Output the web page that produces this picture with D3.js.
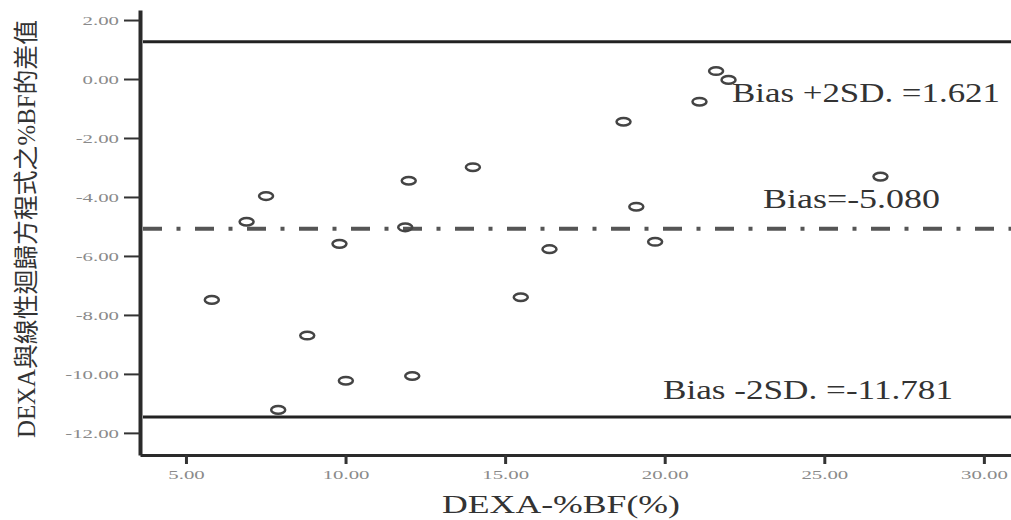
<!DOCTYPE html>
<html>
<head>
<meta charset="utf-8">
<script src="https://cdn.jsdelivr.net/npm/d3@7"></script>
<style>
  body { margin: 0; background: #fff; }
  svg { display: block; }
</style>
</head>
<body>
<svg id="chart_svg" width="1011" height="520"></svg>
<script>
/* values */
var dexaBF = [5.81, 6.90, 7.51, 7.89, 8.80, 9.81, 10.01, 11.87, 11.98, 12.09,
              13.99, 15.49, 16.39, 18.71, 19.11, 19.70, 21.09, 21.61, 22.00, 26.76];
var diffBF = [-7.49, -4.84, -3.97, -11.22, -8.70, -5.59, -10.23, -5.03, -3.45, -10.07,
              -2.99, -7.40, -5.77, -1.45, -4.33, -5.52, -0.77, 0.27, -0.03, -3.31];
var refValues = [1.26, -5.08, -11.46];
var refLabels = ['Bias +2SD. =1.621', 'Bias=-5.080', 'Bias -2SD. =-11.781'];
var xTicks = [5, 10, 15, 20, 25, 30];
var yTicks = [2, 0, -2, -4, -6, -8, -10, -12];
var xTitle = 'DEXA-%BF(%)';
var yTitle = 'DEXA與線性迴歸方程式之%BF的差值';

var serif = "'Liberation Serif', 'Noto Sans CJK TC'";

function createChart(){
  var svg = d3.select('#chart_svg');

  var x = d3.scaleLinear().domain([3.56, 30.85]).range([140, 1011]);
  var y = d3.scaleLinear().domain([2.34, -12.75]).range([10, 455]);
  var fmt = d => d.toFixed(2);

  /* stretch helper, the picture is wider than it should be */
  function stretch(sel, k){
    sel.each(function(){
      var w = this.getComputedTextLength();
      d3.select(this).attr('textLength', w*k).attr('lengthAdjust', 'spacingAndGlyphs');
    });
  }

  /* Y axis */
  var yAxis = svg.append('g')
    .attr('transform', 'translate(' + x.range()[0] + ',0)')
    .call(d3.axisLeft(y).tickValues(yTicks).tickFormat(fmt).tickSize(16).tickSizeOuter(0).tickPadding(5));
  yAxis.select('.domain').attr('stroke', '#2a2a2a').attr('stroke-width', 4);
  yAxis.selectAll('.tick line').attr('stroke', '#333').attr('stroke-width', 2);
  yAxis.selectAll('.tick text').attr('fill', '#8a8a8a')
    .style('font-family', serif).style('font-size', '13px');
  stretch(yAxis.selectAll('.tick text'), 1.6);

  /* X axis */
  var xAxis = svg.append('g')
    .attr('transform', 'translate(0,' + y.range()[1] + ')')
    .call(d3.axisBottom(x).tickValues(xTicks).tickFormat(fmt).tickSize(9).tickSizeOuter(0).tickPadding(6));
  xAxis.select('.domain').attr('stroke', '#2a2a2a').attr('stroke-width', 3);
  xAxis.selectAll('.tick line').attr('stroke', '#333').attr('stroke-width', 3);
  xAxis.selectAll('.tick text').attr('fill', '#8a8a8a')
    .style('font-family', serif).style('font-size', '13px');
  stretch(xAxis.selectAll('.tick text'), 1.6);

  /* Bias and limit lines */
  svg.selectAll('line.ref')
    .data(refValues)
    .enter().append('line')
    .attr('class', 'ref')
    .attr('x1', x.range()[0] + 3).attr('x2', x.range()[1])
    .attr('y1', d => y(d)).attr('y2', d => y(d))
    .attr('stroke', (d, i) => i == 1 ? '#555' : '#222')
    .attr('stroke-width', (d, i) => i == 1 ? 4 : 3)
    .attr('stroke-dasharray', (d, i) => i == 1 ? '19,14.5,4,14.5' : null);

  /* labels for the lines */
  var labelPos = [{x: 732, dy: 60, w: 268}, {x: 763, dy: -21, w: 177}, {x: 663, dy: -18, w: 290}];
  svg.selectAll('text.ref')
    .data(refLabels)
    .enter().append('text')
    .attr('class', 'ref')
    .attr('x', (d, i) => labelPos[i].x)
    .attr('y', (d, i) => y(refValues[i]) + labelPos[i].dy)
    .attr('textLength', (d, i) => labelPos[i].w)
    .attr('lengthAdjust', 'spacingAndGlyphs')
    .style('font-family', serif).style('font-size', '27px')
    .attr('fill', '#333')
    .text(d => d);

  /* points */
  svg.selectAll('ellipse.pt')
    .data(dexaBF)
    .enter().append('ellipse')
    .attr('class', 'pt')
    .attr('cx', d => x(d))
    .attr('cy', (d, i) => y(diffBF[i]))
    .attr('rx', 7).attr('ry', 3.8)
    .attr('fill', 'none')
    .attr('stroke', '#444')
    .attr('stroke-width', 2.5);

  /* axis titles */
  svg.append('text')
    .attr('x', 561).attr('y', 513)
    .attr('text-anchor', 'middle')
    .attr('textLength', 238).attr('lengthAdjust', 'spacingAndGlyphs')
    .style('font-family', serif).style('font-size', '26px')
    .attr('fill', '#333')
    .text(xTitle);

  svg.append('text')
    .attr('transform', 'translate(35,229) rotate(-90)')
    .attr('text-anchor', 'middle')
    .attr('textLength', 418).attr('lengthAdjust', 'spacingAndGlyphs')
    .style('font-family', serif).style('font-size', '25px')
    .attr('fill', '#333')
    .text(yTitle);
}

createChart();
</script>
</body>
</html>
